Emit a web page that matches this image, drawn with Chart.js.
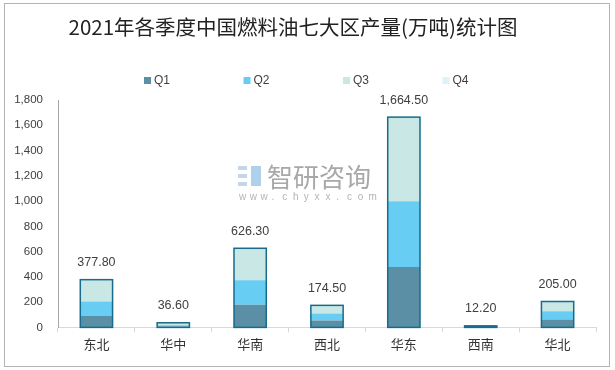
<!DOCTYPE html>
<html>
<head>
<meta charset="utf-8">
<script src="https://cdn.jsdelivr.net/npm/chart.js@4.4.1/dist/chart.umd.min.js"></script>
<style>
	body { margin: 0; background: #fff; }
	#wrap { position: relative; width: 615px; height: 370px; }
	#frame { position: absolute; left: 4px; top: 3px; width: 604px; height: 362px; border: 1px solid #b4b4b4; pointer-events: none; }
</style>
</head>
<body>
<div id="wrap">
	<canvas id="chart" width="615" height="370"></canvas>
	<div id="frame"></div>
</div>
<script>
// 2021年各季度中国燃料油七大区产量(万吨)
const regions = ['东北', '华中', '华南', '西北', '华东', '西南', '华北'];
const q1 = [93, 8, 180, 55.5, 478, 4, 63];
const q2 = [113, 10, 193, 55.5, 521, 4, 64];
const q3 = [171.8, 18.6, 253.3, 63.5, 665.5, 4.2, 78];
const q4 = [0, 0, 0, 0, 0, 0, 0];
const totals = [377.8, 36.6, 626.3, 174.5, 1664.5, 12.2, 205.0];
const yTicks = [0, 200, 400, 600, 800, 1000, 1200, 1400, 1600, 1800];

const TITLE = '2021年各季度中国燃料油七大区产量(万吨)统计图';
const colors = ['#5b8fa6', '#68cdf3', '#c8e7e5', '#ddf2f9'];
const outline = '#176b8c';
const numFont = '"Liberation Sans", Arial, sans-serif';
const cjkFont = '"Noto Sans CJK SC", sans-serif';

const fmt = v => v.toLocaleString('en-US', { minimumFractionDigits: 2, maximumFractionDigits: 2 });

// title, legend, watermark, stack outlines and total labels
const overlay = {
	id: 'overlay',
	beforeDatasetsDraw(chart) {
		const ctx = chart.ctx;
		ctx.save();
		// watermark
		ctx.fillStyle = '#c5d6e6';
		ctx.fillRect(238, 166, 9, 4);
		ctx.fillRect(238, 174, 9, 4);
		ctx.fillRect(238, 182, 9, 4);
		ctx.fillStyle = '#aed0ea';
		ctx.fillRect(251, 166, 10, 20);
		ctx.fillStyle = '#a8a8a8';
		ctx.font = '26px ' + cjkFont;
		ctx.textBaseline = 'middle';
		ctx.textAlign = 'left';
		ctx.fillText('智研咨询', 267, 177);
		ctx.fillStyle = '#b4b4b4';
		ctx.font = '10px ' + numFont;
		const site = 'www.chyxx.com';
		for (let i = 0; i < site.length; i++) ctx.fillText(site[i], 239 + i * 10.8, 197);
		ctx.restore();
	},
	afterDatasetsDraw(chart) {
		const ctx = chart.ctx;
		const y = chart.scales.y;
		const bottom = chart.getDatasetMeta(0).data;
		ctx.save();
		ctx.strokeStyle = outline;
		ctx.lineWidth = 1.5;
		ctx.fillStyle = '#404040';
		ctx.font = '12.5px ' + numFont;
		ctx.textAlign = 'center';
		ctx.textBaseline = 'middle';
		totals.forEach((t, i) => {
			const el = bottom[i];
			const top = y.getPixelForValue(t);
			const base = y.getPixelForValue(0);
			const w = el.width;
			ctx.strokeRect(el.x - w / 2, top, w, base - top);
			ctx.fillText(fmt(t), el.x, top - 17);
		});
		ctx.restore();
	},
	afterDraw(chart) {
		const ctx = chart.ctx;
		ctx.save();
		ctx.fillStyle = '#222';
		ctx.font = '20.5px ' + cjkFont;
		ctx.textAlign = 'center';
		ctx.textBaseline = 'middle';
		ctx.fillText(TITLE, 293, 27);
		// legend
		ctx.font = '12px ' + numFont;
		ctx.textAlign = 'left';
		chart.data.datasets.forEach((ds, i) => {
			const x = 144 + i * 99.5;
			ctx.fillStyle = ds.backgroundColor;
			ctx.fillRect(x, 77, 7, 7);
			ctx.fillStyle = '#404040';
			ctx.fillText(ds.label, x + 10, 81);
		});
		ctx.restore();
	}
};

const mk = (label, data, i) => ({
	label, data,
	backgroundColor: colors[i],
	borderWidth: 0,
	barPercentage: 0.42,
	categoryPercentage: 1,
	stack: 'a'
});

new Chart(document.getElementById('chart'), {
	type: 'bar',
	data: {
		labels: regions,
		datasets: [mk('Q1', q1, 0), mk('Q2', q2, 1), mk('Q3', q3, 2), mk('Q4', q4, 3)]
	},
	options: {
		responsive: false,
		animation: false,
		layout: { padding: { top: 100, right: 19, bottom: 14, left: 0 } },
		plugins: { legend: { display: false }, title: { display: false }, tooltip: { enabled: false } },
		scales: {
			x: {
				stacked: true,
				grid: { offset: true, drawOnChartArea: false, drawTicks: true, tickLength: 5, color: '#d9d9d9' },
				border: { color: '#d9d9d9' },
				ticks: { color: '#333', padding: 4, font: { family: cjkFont, size: 13 } }
			},
			y: {
				stacked: true,
				min: 0,
				max: 1800,
				afterBuildTicks: s => { s.ticks = yTicks.map(v => ({ value: v })); },
				afterFit: s => { s.width = 58; },
				grid: { display: false, drawTicks: false },
				border: { color: '#a6a6a6' },
				ticks: {
					color: '#404040', padding: 15,
					font: { family: numFont, size: 11.5 },
					callback: v => v.toLocaleString('en-US')
				}
			}
		}
	},
	plugins: [overlay]
});
</script>
</body>
</html>
